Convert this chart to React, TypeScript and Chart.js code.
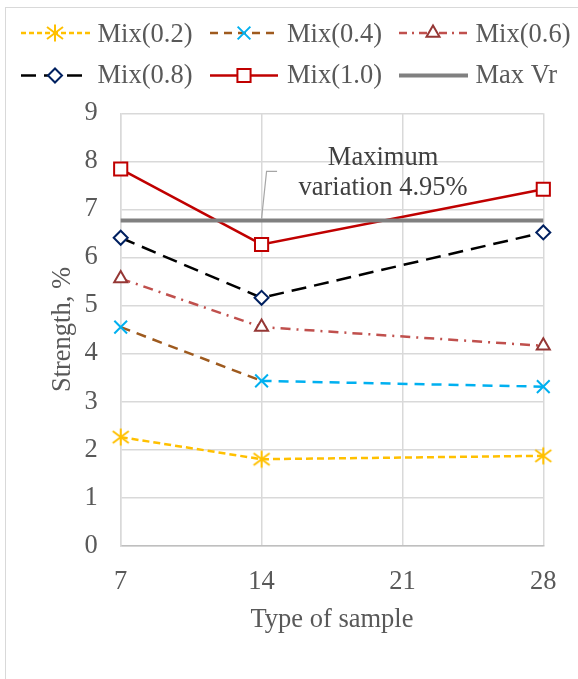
import React, { useEffect, useRef } from "react";
import { Chart, registerables } from "chart.js";
import { drawPoint } from "chart.js/helpers";

Chart.register(...registerables);

// ---- data ----
const sampleAges = [7, 14, 28];
const xTickValues = [7, 14, 21, 28];
const mix02 = [2.26, 1.8, 1.87];
const mix04 = [4.55, 3.43, 3.31];
const mix06 = [5.56, 4.55, 4.16];
const mix08 = [6.41, 5.16, 6.52];
const mix10 = [7.84, 6.27, 7.42];
const maxVr = [6.77, 6.77, 6.77];
const seriesLabels = ["Mix(0.2)", "Mix(0.4)", "Mix(0.6)", "Mix(0.8)", "Mix(1.0)", "Max Vr"];
const xTitle = "Type of sample";
const yTitle = "Strength, %";
const annotationLines = ["Maximum", "variation 4.95%"];

const FONT = "'Liberation Serif', 'Times New Roman', serif";
const TEXT = "#595959";
const FSIZE = 26.5;

function toPoints(vals: number[]) {
  return vals.map((v, i) => ({ x: sampleAges[i], y: v }));
}

function makeAsterisk(color: string) {
  const c = document.createElement("canvas");
  c.width = 20;
  c.height = 20;
  const g = c.getContext("2d")!;
  g.strokeStyle = color;
  g.lineWidth = 2;
  g.beginPath();
  g.moveTo(10, 1.5);
  g.lineTo(10, 18.5);
  g.moveTo(2, 4);
  g.lineTo(18, 16);
  g.moveTo(2, 16);
  g.lineTo(18, 4);
  g.stroke();
  return c;
}

export default function App() {
  const ref = useRef<HTMLCanvasElement>(null);

  useEffect(() => {
    const asterisk = makeAsterisk("#FFC000");
    const brown = "#9E5A1E";
    const cyan = "#00B0F0";

    const datasets: any[] = [
      {
        label: seriesLabels[0],
        data: toPoints(mix02),
        borderColor: "#FFC000",
        borderWidth: 2.5,
        borderDash: [7, 4],
        pointStyle: asterisk,
        pointRadius: 9,
        legendLine: "#FFC000",
        legendDash: [5, 3],
        order: 5,
      },
      {
        label: seriesLabels[1],
        data: toPoints(mix04),
        borderColor: cyan,
        borderWidth: 2.5,
        borderDash: [10, 7],
        segment: {
          borderColor: (c: any) => (c.p0DataIndex === 0 ? brown : cyan),
        },
        pointStyle: "crossRot",
        pointRadius: 9,
        pointBorderColor: cyan,
        pointBorderWidth: 2,
        legendLine: brown,
        legendDash: [8, 6],
        order: 4,
      },
      {
        label: seriesLabels[2],
        data: toPoints(mix06),
        borderColor: "#C0504D",
        borderWidth: 2.5,
        borderDash: [10, 6, 2, 6],
        pointStyle: "triangle",
        pointRadius: 7.5,
        pointBorderColor: "#953735",
        pointBackgroundColor: "#FFFFFF",
        pointBorderWidth: 2,
        legendLine: "#C0504D",
        legendDash: [8, 5, 2, 5],
        order: 3,
      },
      {
        label: seriesLabels[3],
        data: toPoints(mix08),
        borderColor: "#000000",
        borderWidth: 2.5,
        borderDash: [15, 8],
        pointStyle: "rectRot",
        pointRadius: 7,
        pointBorderColor: "#002060",
        pointBackgroundColor: "#FFFFFF",
        pointBorderWidth: 2,
        legendLine: "#000000",
        legendDash: [15, 8],
        order: 2,
      },
      {
        label: seriesLabels[4],
        data: toPoints(mix10),
        borderColor: "#C00000",
        borderWidth: 2.5,
        pointStyle: "rect",
        pointRadius: 9.3,
        pointBorderColor: "#C00000",
        pointBackgroundColor: "#FFFFFF",
        pointBorderWidth: 2,
        legendLine: "#C00000",
        legendDash: [],
        order: 1,
      },
      {
        label: seriesLabels[5],
        data: toPoints(maxVr),
        borderColor: "#808080",
        borderWidth: 4,
        pointRadius: 0,
        legendLine: "#808080",
        legendDash: [],
        order: 0,
      },
    ];
    datasets.forEach((d) => (d.clip = false));

    const frame = {
      id: "frame",
      beforeDraw(chart: any) {
        const ctx = chart.ctx;
        ctx.save();
        ctx.fillStyle = "#FFFFFF";
        ctx.fillRect(0, 0, chart.width, chart.height);
        ctx.strokeStyle = "#D9D9D9";
        ctx.lineWidth = 1;
        ctx.strokeRect(5.5, 7.5, 800, 800);
        ctx.restore();
      },
    };

    const legendCols = [
      { l0: 21, l1: 90, m: 55, t: 97.5 },
      { l0: 210, l1: 278, m: 244, t: 287 },
      { l0: 399, l1: 468, m: 433, t: 475.5 },
    ];
    const legendRows = [{ line: 33, text: 35 }, { line: 75.5, text: 76 }];

    const legendPlugin = {
      id: "customLegend",
      afterDraw(chart: any) {
        const ctx = chart.ctx;
        chart.data.datasets.forEach((ds: any, i: number) => {
          const col = legendCols[i % 3];
          const row = legendRows[Math.floor(i / 3)];
          ctx.save();
          ctx.strokeStyle = ds.legendLine;
          ctx.lineWidth = ds.borderWidth;
          ctx.setLineDash(ds.legendDash || []);
          ctx.beginPath();
          ctx.moveTo(col.l0, row.line);
          ctx.lineTo(col.l1, row.line);
          ctx.stroke();
          ctx.setLineDash([]);
          if (ds.pointRadius > 0) {
            ctx.strokeStyle = ds.pointBorderColor || ds.borderColor;
            ctx.fillStyle = ds.pointBackgroundColor || "#FFFFFF";
            ctx.lineWidth = ds.pointBorderWidth || 2;
            drawPoint(
              ctx,
              {
                pointStyle: ds.pointStyle,
                radius: ds.pointRadius,
                rotation: 0,
                borderWidth: ds.pointBorderWidth || 2,
              } as any,
              col.m,
              row.line
            );
          }
          ctx.fillStyle = TEXT;
          ctx.font = `${FSIZE}px ${FONT}`;
          ctx.textBaseline = "middle";
          ctx.textAlign = "left";
          ctx.fillText(ds.label, col.t, row.text);
          ctx.restore();
        });
      },
    };

    const annotationPlugin = {
      id: "maxAnnotation",
      afterDraw(chart: any) {
        const ctx = chart.ctx;
        const ax = chart.scales.x.getPixelForValue(sampleAges[1]);
        const ay = chart.scales.y.getPixelForValue(maxVr[1]);
        ctx.save();
        ctx.strokeStyle = "#A6A6A6";
        ctx.lineWidth = 1.2;
        ctx.beginPath();
        ctx.moveTo(ax, ay - 2);
        ctx.lineTo(ax + 5, ay - 49);
        ctx.lineTo(ax + 15.5, ay - 49);
        ctx.stroke();
        ctx.fillStyle = "#404040";
        ctx.font = `${FSIZE}px ${FONT}`;
        ctx.textAlign = "center";
        ctx.textBaseline = "alphabetic";
        ctx.fillText(annotationLines[0], ax + 121.5, ay - 55.5);
        ctx.fillText(annotationLines[1], ax + 121.5, ay - 25);
        ctx.restore();
      },
    };

    const tickFont = { family: FONT, size: FSIZE };

    const chart = new Chart(ref.current!, {
      type: "line",
      data: { datasets },
      options: {
        animation: false,
        responsive: false,
        devicePixelRatio: 1,
        events: [],
        layout: { padding: { top: 113.3, right: 34.7, left: 0, bottom: 0 } },
        plugins: {
          legend: { display: false },
          tooltip: { enabled: false },
        },
        elements: { line: { tension: 0 } },
        scales: {
          x: {
            type: "linear",
            min: 7,
            max: 28,
            afterBuildTicks: (s: any) => {
              s.ticks = xTickValues.map((v) => ({ value: v }));
            },
            afterFit: (s: any) => {
              s.height = 133.3;
            },
            grid: { color: "#D9D9D9", lineWidth: 1.5, drawTicks: false },
            border: { color: "#BFBFBF", width: 1.5 },
            ticks: { color: TEXT, font: tickFont, padding: 20, maxRotation: 0, autoSkip: false },
            title: {
              display: true,
              text: xTitle,
              color: TEXT,
              font: tickFont,
              padding: { top: 0, bottom: 43 },
            },
          },
          y: {
            min: 0,
            max: 9,
            afterFit: (s: any) => {
              s.width = 120.7;
            },
            grid: { color: "#D9D9D9", lineWidth: 1.5, drawTicks: false },
            border: { color: "#D9D9D9", width: 1.5 },
            ticks: { color: TEXT, font: tickFont, padding: 23, stepSize: 1 },
            title: {
              display: true,
              text: yTitle,
              color: TEXT,
              font: tickFont,
              padding: { top: 47, bottom: 0 },
            },
          },
        },
      } as any,
      plugins: [frame, legendPlugin, annotationPlugin],
    });
    return () => chart.destroy();
  }, []);

  return (
    <div style={{ position: "absolute", left: 0, top: 0, width: 578, height: 679 }}>
      <canvas ref={ref} width={578} height={679} style={{ display: "block", width: 578, height: 679 }} />
    </div>
  );
}
